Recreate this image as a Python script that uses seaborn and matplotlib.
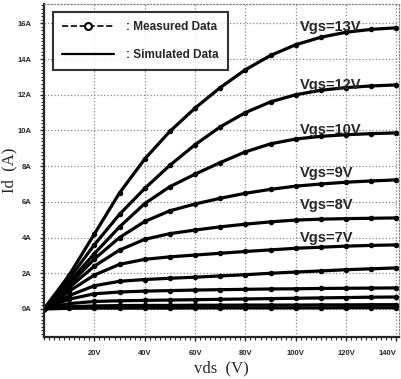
import numpy as np
import pandas as pd
import matplotlib
matplotlib.use("Agg")
import matplotlib.pyplot as plt
from matplotlib.lines import Line2D
from matplotlib.ticker import MultipleLocator
import seaborn as sns

# Drain voltage grid (V)
vds = [0, 10, 20, 30, 40, 50, 60, 70, 80, 90, 100, 110, 120, 130, 140]

# Drain current (A) for each gate voltage
id_13v = [0, 1.9, 4.2, 6.5, 8.4, 9.95, 11.25, 12.4, 13.4, 14.2, 14.8, 15.22, 15.5, 15.66, 15.75]
id_12v = [0, 1.7, 3.6, 5.3, 6.75, 8.05, 9.2, 10.2, 11.0, 11.6, 12.0, 12.25, 12.4, 12.49, 12.55]
id_10v = [0, 1.5, 3.1, 4.6, 5.9, 6.85, 7.55, 8.2, 8.8, 9.25, 9.52, 9.67, 9.76, 9.82, 9.86]
id_9v = [0, 1.35, 2.8, 4.0, 4.9, 5.5, 5.88, 6.2, 6.48, 6.7, 6.88, 7.0, 7.1, 7.17, 7.23]
id_8v = [0, 1.2, 2.4, 3.3, 3.9, 4.22, 4.42, 4.6, 4.75, 4.88, 4.98, 5.03, 5.06, 5.08, 5.10]
id_7v = [0, 1.0, 1.9, 2.5, 2.78, 2.92, 3.02, 3.12, 3.22, 3.31, 3.4, 3.46, 3.52, 3.56, 3.59]
id_6v = [0, 0.75, 1.3, 1.55, 1.65, 1.72, 1.78, 1.85, 1.92, 2.0, 2.07, 2.13, 2.2, 2.25, 2.30]
id_5v = [0, 0.55, 0.85, 0.95, 1.0, 1.03, 1.06, 1.08, 1.1, 1.12, 1.13, 1.15, 1.16, 1.17, 1.18]
id_4v = [0, 0.3, 0.42, 0.46, 0.48, 0.5, 0.52, 0.54, 0.56, 0.58, 0.6, 0.62, 0.64, 0.66, 0.67]
id_3v = [0, 0.12, 0.17, 0.19, 0.2, 0.2, 0.21, 0.21, 0.22, 0.22, 0.22, 0.23, 0.23, 0.24, 0.24]
id_2v = [0, 0.04, 0.05, 0.05, 0.05, 0.05, 0.06, 0.06, 0.06, 0.06, 0.06, 0.06, 0.07, 0.07, 0.07]

curves = [id_13v, id_12v, id_10v, id_9v, id_8v, id_7v, id_6v, id_5v, id_4v, id_3v, id_2v]

# Curve labels on the right side
label_text = ['Vgs=13V', 'Vgs=12V', 'Vgs=10V', 'Vgs=9V', 'Vgs=8V', 'Vgs=7V']
label_y = [15.8, 12.55, 10.03, 7.62, 5.83, 3.98]

x_ticks = [20, 40, 60, 80, 100, 120, 140]
x_ticklabels = ['20V', '40V', '60V', '80V', '100V', '120V', '140V']
y_ticks = [0, 2, 4, 6, 8, 10, 12, 14, 16]
y_ticklabels = ['0A', '2A', '4A', '6A', '8A', '10A', '12A', '14A', '16A']

sns.set_style('white')
plt.rcParams['font.family'] = ['Liberation Sans', 'DejaVu Sans']

fig = plt.figure(figsize=(4.02, 3.79), dpi=100)
ax = fig.add_axes([0.1095, 0.1108, 0.883, 0.8786])

for ids in curves:
    df = pd.DataFrame({'vds': vds, 'id': ids})
    # simulated
    sns.lineplot(data=df, x='vds', y='id', ax=ax, color='black', lw=2.3, legend=False)
    # measured
    sns.lineplot(data=df, x='vds', y='id', ax=ax, color='black', lw=1.0, linestyle='--',
                 marker='o', markersize=3.2, markerfacecolor='black', markeredgecolor='black',
                 legend=False)

for txt, yy in zip(label_text, label_y):
    ax.text(101.5, yy, txt, fontsize=10.5, fontweight='bold', ha='left', va='center',
            family='Liberation Sans')

ax.set_xlim(0, 141)
ax.set_ylim(-1.57, 17.08)
ax.set_xticks(x_ticks)
ax.set_xticklabels(x_ticklabels, fontsize=5.5, fontweight='bold')
ax.get_xticklabels()[-1].set_horizontalalignment('right')
ax.set_yticks(y_ticks)
ax.set_yticklabels(y_ticklabels, fontsize=5.5, fontweight='bold')
ax.xaxis.set_minor_locator(MultipleLocator(2))
ax.yaxis.set_minor_locator(MultipleLocator(0.2))
ax.tick_params(which='major', direction='out', length=3, width=1, pad=6)
ax.tick_params(which='minor', direction='out', length=2, width=0.8)
ax.tick_params(axis='x', which='both', bottom=True)
ax.tick_params(axis='y', which='both', left=True)

ax.grid(True, which='major', linestyle=':', color='#888888', lw=0.9)

ax.spines['left'].set_linewidth(1.6)
ax.spines['bottom'].set_linewidth(1.6)
for s in ['top', 'right']:
    ax.spines[s].set_linestyle(':')
    ax.spines[s].set_color('#888888')
    ax.spines[s].set_linewidth(0.9)

ax.set_xlabel('vds  (V)', family='Liberation Serif', fontsize=12)
ax.set_ylabel('Id  (A)', family='Liberation Serif', fontsize=12)
ax.xaxis.set_label_coords(0.5, -0.07)
ax.yaxis.set_label_coords(-0.075, 0.5)

handles = [
    Line2D([], [], color='black', lw=1.2, linestyle='--', marker='o', markersize=5,
           markerfacecolor='white', markeredgecolor='black', markeredgewidth=1.5),
    Line2D([], [], color='black', lw=1.6),
]
leg = ax.legend(handles, [': Measured Data', ': Simulated Data'], loc='upper left',
                bbox_to_anchor=(0.025, 0.976), borderaxespad=0, frameon=True, fancybox=False,
                handlelength=4.4, labelspacing=1.3, borderpad=0.8, handletextpad=1.0,
                prop={'weight': 'bold', 'size': 8.5})
leg.get_frame().set_edgecolor('black')
leg.get_frame().set_linewidth(1.5)

fig.savefig('out.png', dpi=100)
